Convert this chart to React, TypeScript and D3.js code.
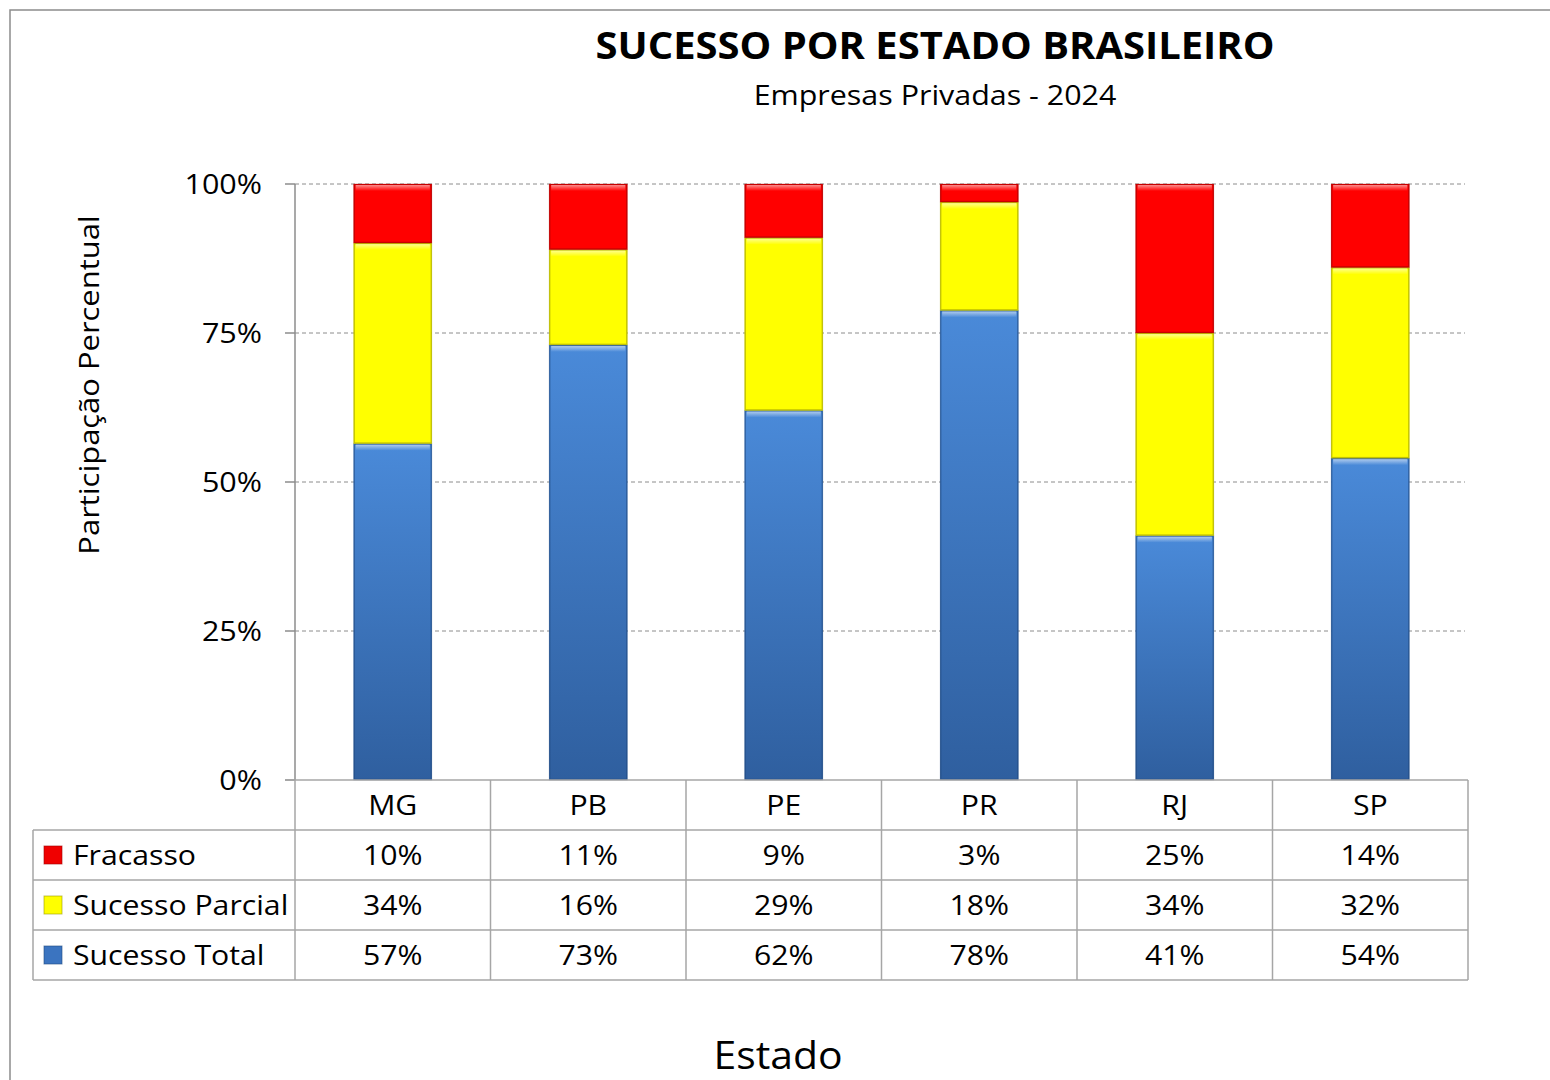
import { useEffect, useRef } from "react";
import { select, scaleBand, scaleLinear, stack, stackOffsetExpand, format } from "d3";

const states = ["MG", "PB", "PE", "PR", "RJ", "SP"];
const fracasso = [10, 11, 9, 3, 25, 14];
const sucessoParcial = [34, 16, 29, 18, 34, 32];
const sucessoTotal = [57, 73, 62, 78, 41, 54];
const yTicks = [0, 0.25, 0.5, 0.75, 1];

const seriesNames = ["Fracasso", "Sucesso Parcial", "Sucesso Total"];
const seriesKeys = ["fracasso", "parcial", "total"];

const FONT = "'Open Sans', Lato, sans-serif";

export default function App() {
    const ref = useRef<SVGSVGElement>(null);

    useEffect(() => {
        const width = 1550;
        const height = 1080;
        const svg = select(ref.current);
        svg.selectAll("*").remove();

        const left = 295;
        const right = 1468;
        const top = 184;
        const bottom = 780;
        const rowH = 50;

        // text helper: the source chart's font is a bit wider than tall, so stretch horizontally
        const label = (
            parent: any,
            tx: number,
            ty: number,
            txt: string,
            size: number,
            anchor = "start",
            sx = 1.12,
            weight = 400,
            rotate = 0
        ) =>
            parent.append("text")
                .attr("transform", `translate(${tx},${ty}) rotate(${rotate}) scale(${sx},1)`)
                .attr("text-anchor", anchor)
                .attr("font-family", FONT)
                .attr("font-size", size)
                .attr("font-weight", weight)
                .attr("fill", "#000")
                .text(txt);

        const rows = states.map((s, i) => ({
            state: s,
            fracasso: fracasso[i],
            parcial: sucessoParcial[i],
            total: sucessoTotal[i],
        }));
        const valuesByKey: Record<string, number[]> = {
            fracasso: fracasso,
            parcial: sucessoParcial,
            total: sucessoTotal,
        };

        const x = scaleBand().domain(states).range([left, right]).paddingInner(0.6).paddingOuter(0.3);
        const col = scaleBand().domain(states).range([left, right]);
        const y = scaleLinear().domain([0, 1]).range([bottom, top]);

        const stacked = stack<any>().keys(["total", "parcial", "fracasso"]).offset(stackOffsetExpand)(rows);

        const defs = svg.append("defs");
        const blue = defs.append("linearGradient").attr("id", "gBlue").attr("x1", 0).attr("y1", 0).attr("x2", 0).attr("y2", 1);
        blue.append("stop").attr("offset", "0%").attr("stop-color", "#4a8ad9");
        blue.append("stop").attr("offset", "100%").attr("stop-color", "#2f5f9f");
        const shine = defs.append("linearGradient").attr("id", "gShine").attr("x1", 0).attr("y1", 0).attr("x2", 0).attr("y2", 1);
        shine.append("stop").attr("offset", "0%").attr("stop-color", "#fff").attr("stop-opacity", 0.55);
        shine.append("stop").attr("offset", "100%").attr("stop-color", "#fff").attr("stop-opacity", 0);

        const fills: Record<string, string> = { fracasso: "#ff0000", parcial: "#ffff00", total: "url(#gBlue)" };
        const edges: Record<string, string> = { fracasso: "#a00000", parcial: "#9a9a00", total: "#1f4a80" };
        const swatch: Record<string, string> = { fracasso: "#f00000", parcial: "#ffff00", total: "#3b74c0" };

        // background + outer frame
        svg.append("rect").attr("width", width).attr("height", height).attr("fill", "#fff");
        svg.append("rect")
            .attr("x", 10).attr("y", 10)
            .attr("width", width + 20).attr("height", height + 20)
            .attr("fill", "none").attr("stroke", "#8c8c8c").attr("stroke-width", 1.5);

        // titles
        label(svg, 935, 59, "SUCESSO POR ESTADO BRASILEIRO", 37, "middle", 1.08, 700);
        label(svg, 935, 105, "Empresas Privadas - 2024", 28, "middle", 1.087);

        // gridlines
        svg.append("g").selectAll("line")
            .data(yTicks.filter((t) => t > 0))
            .join("line")
            .attr("x1", left).attr("x2", right - 3)
            .attr("y1", (d) => y(d)).attr("y2", (d) => y(d))
            .attr("stroke", "#8c8c8c").attr("stroke-dasharray", "4,3");

        // y axis + ticks
        svg.append("line").attr("x1", left).attr("x2", left).attr("y1", top).attr("y2", bottom).attr("stroke", "#8c8c8c").attr("stroke-width", 1.5);
        svg.append("g").selectAll("line")
            .data(yTicks)
            .join("line")
            .attr("x1", left - 10).attr("x2", left)
            .attr("y1", (d) => y(d)).attr("y2", (d) => y(d))
            .attr("stroke", "#8c8c8c").attr("stroke-width", 1.5);
        const tickG = svg.append("g");
        yTicks.forEach((t) => label(tickG, 262, y(t) + 10, format(".0%")(t), 27, "end", 1.13));

        label(svg, 99, (top + bottom) / 2 - 97, "Participação Percentual", 27, "middle", 1.146, 400, -90);

        // bars
        stacked.forEach((layer) => {
            const key = layer.key;
            const g = svg.append("g");
            layer.forEach((d: any, i: number) => {
                const x0 = x(states[i]) as number;
                const w = x.bandwidth();
                const y0 = y(d[1]);
                const h = y(d[0]) - y(d[1]);
                g.append("rect").attr("x", x0).attr("y", y0).attr("width", w).attr("height", h)
                    .attr("fill", fills[key]);
                g.append("rect").attr("x", x0 + 0.5).attr("y", y0 + 0.5).attr("width", w - 1).attr("height", h - 1)
                    .attr("fill", "none").attr("stroke", edges[key]).attr("stroke-opacity", 0.6).attr("stroke-width", 1.5);
                g.append("rect").attr("x", x0 + 2).attr("y", y0 + 1).attr("width", w - 4).attr("height", Math.min(6, h))
                    .attr("fill", "url(#gShine)");
            });
        });

        // data table
        const grid = svg.append("g").attr("stroke", "#a6a6a6").attr("stroke-width", 1.5);
        grid.append("line").attr("x1", left - 10).attr("x2", right).attr("y1", bottom).attr("y2", bottom);
        [1, 2, 3, 4].forEach((r) => {
            grid.append("line").attr("x1", 33).attr("x2", right).attr("y1", bottom + r * rowH).attr("y2", bottom + r * rowH);
        });
        grid.append("line").attr("x1", 33).attr("x2", 33).attr("y1", bottom + rowH).attr("y2", bottom + 4 * rowH);
        states.forEach((s) => {
            grid.append("line").attr("x1", col(s) as number).attr("x2", col(s) as number).attr("y1", bottom).attr("y2", bottom + 4 * rowH);
        });
        grid.append("line").attr("x1", right).attr("x2", right).attr("y1", bottom).attr("y2", bottom + 4 * rowH);

        const cx = (s: string) => (col(s) as number) + col.bandwidth() / 2;
        const tableG = svg.append("g");
        states.forEach((s) => label(tableG, cx(s), bottom + rowH / 2 + 10, s, 27, "middle"));

        seriesKeys.forEach((key, r) => {
            const rowY = bottom + (r + 1) * rowH;
            tableG.append("rect")
                .attr("x", 44).attr("y", rowY + 16).attr("width", 18).attr("height", 18)
                .attr("fill", swatch[key]).attr("stroke", edges[key]).attr("stroke-opacity", 0.6);
            label(tableG, 73, rowY + rowH / 2 + 10, seriesNames[r], 27, "start");
            valuesByKey[key].forEach((v, i) => label(tableG, cx(states[i]), rowY + rowH / 2 + 10, `${v}%`, 27, "middle"));
        });

        label(svg, 778, 1069, "Estado", 38, "middle", 1.076);
    }, []);

    return (
        <svg
            ref={ref}
            width={1550}
            height={1080}
            style={{ position: "absolute", left: 0, top: 0, display: "block" }}
        />
    );
}
